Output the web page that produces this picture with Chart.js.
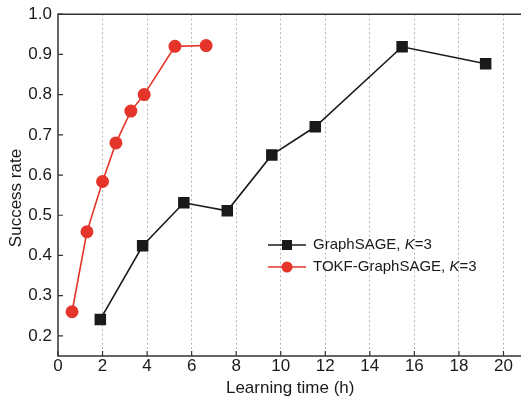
<!DOCTYPE html>
<html>
<head>
<meta charset="utf-8">
<script src="https://cdn.jsdelivr.net/npm/chart.js@4/dist/chart.umd.min.js"></script>
<style>
  html, body { margin: 0; padding: 0; background: #fff; overflow: hidden; }
  /* the plot runs off the right edge in the original, so the canvas is a little larger than the view */
  #wrap { width: 521px; height: 399px; overflow: hidden; }
  #chart { display: block; margin-top: -2px; }
</style>
</head>
<body>
<div id="wrap"><canvas id="chart" width="531" height="401"></canvas></div>
<script>
// values
const sageTime = [1.9, 3.8, 5.65, 7.6, 9.6, 11.55, 15.45, 19.2];
const sageRate = [0.241, 0.424, 0.531, 0.511, 0.65, 0.72, 0.919, 0.877];
const tokfTime = [0.63, 1.3, 2.0, 2.6, 3.27, 3.87, 5.25, 6.65];
const tokfRate = [0.26, 0.459, 0.584, 0.68, 0.759, 0.80, 0.92, 0.922];
const yTicks = [0.2, 0.3, 0.4, 0.5, 0.6, 0.7, 0.8, 0.9, 1.0];
const legendLabels = [['GraphSAGE, ', 'K', '=3'], ['TOKF-GraphSAGE, ', 'K', '=3']];
const yTitle = 'Success rate';

const FONT = '"Liberation Sans", Arial, Helvetica, sans-serif';
const INK = '#1a1a1a';
const RED = '#e5352b';

const toPoints = (xs, ys) => xs.map((x, i) => ({ x, y: ys[i] }));

// frame, inward ticks, y title and the legend
const decorations = {
  id: 'decorations',
  afterDraw(chart) {
    const { ctx, chartArea: a, scales } = chart;
    ctx.save();
    ctx.strokeStyle = '#333';
    ctx.lineWidth = 1.5;
    ctx.beginPath();
    ctx.moveTo(chart.width, a.top);
    ctx.lineTo(a.left, a.top);
    ctx.lineTo(a.left, a.bottom);
    ctx.lineTo(chart.width, a.bottom);
    ctx.stroke();

    ctx.lineWidth = 1.2;
    ctx.beginPath();
    scales.x.ticks.forEach(t => {
      const px = scales.x.getPixelForValue(t.value);
      ctx.moveTo(px, a.bottom);
      ctx.lineTo(px, a.bottom - 5);
    });
    scales.y.ticks.forEach(t => {
      const py = scales.y.getPixelForValue(t.value);
      ctx.moveTo(a.left, py);
      ctx.lineTo(a.left + 5, py);
    });
    ctx.stroke();

    // y title sits a bit below the middle of the axis in the original
    ctx.save();
    ctx.translate(16, 200);
    ctx.rotate(-Math.PI / 2);
    ctx.fillStyle = INK;
    ctx.font = '17px ' + FONT;
    ctx.textAlign = 'center';
    ctx.textBaseline = 'middle';
    ctx.fillText(yTitle, 0, 0);
    ctx.restore();

    const colors = [INK, RED];
    const lx = 268, ly = [247, 269];
    legendLabels.forEach((parts, i) => {
      const y = ly[i];
      ctx.strokeStyle = colors[i];
      ctx.fillStyle = colors[i];
      ctx.lineWidth = 1.5;
      ctx.beginPath();
      ctx.moveTo(lx, y);
      ctx.lineTo(lx + 38, y);
      ctx.stroke();
      ctx.beginPath();
      if (i === 0) {
        ctx.rect(lx + 14, y - 5, 10, 10);
      } else {
        ctx.arc(lx + 19, y, 5.5, 0, Math.PI * 2);
      }
      ctx.fill();

      ctx.fillStyle = INK;
      ctx.textAlign = 'left';
      ctx.textBaseline = 'middle';
      let tx = lx + 45;
      parts.forEach((s, j) => {
        ctx.font = (j === 1 ? 'italic ' : '') + '15px ' + FONT;
        ctx.fillText(s, tx, y);
        tx += ctx.measureText(s).width;
      });
    });
    ctx.restore();
  }
};

new Chart(document.getElementById('chart'), {
  type: 'scatter',
  data: {
    datasets: [{
      label: 'GraphSAGE, K=3',
      data: toPoints(sageTime, sageRate),
      showLine: true,
      borderColor: INK,
      backgroundColor: INK,
      borderWidth: 1.6,
      pointStyle: 'rect',
      pointRadius: 7,
      pointHoverRadius: 7
    }, {
      label: 'TOKF-GraphSAGE, K=3',
      data: toPoints(tokfTime, tokfRate),
      showLine: true,
      borderColor: RED,
      backgroundColor: RED,
      borderWidth: 1.6,
      pointStyle: 'circle',
      pointRadius: 5.7,
      pointHoverRadius: 5.7
    }]
  },
  options: {
    responsive: false,
    animation: false,
    layout: { padding: { top: 11, right: 0, left: 0, bottom: 0 } },
    plugins: {
      legend: { display: false },
      tooltip: { enabled: false }
    },
    scales: {
      x: {
        type: 'linear',
        min: 0,
        max: 20.85,
        afterBuildTicks: scale => {
          scale.ticks = scale.ticks.filter(t => t.value % 2 === 0);
        },
        afterFit: scale => { scale.height = 43; },
        ticks: {
          stepSize: 2,
          includeBounds: false,
          color: INK,
          font: { family: FONT, size: 17 },
          padding: 0,
          maxRotation: 0
        },
        grid: {
          drawTicks: false,
          color: ctx => (ctx.tick && ctx.tick.value === 0 ? 'rgba(0,0,0,0)' : '#b8b8b8'),
          lineWidth: 1
        },
        border: { display: false, dash: [2, 2.5] },
        title: {
          display: true,
          text: 'Learning time (h)',
          color: INK,
          font: { family: FONT, size: 17 },
          padding: { top: 0, bottom: 0 }
        }
      },
      y: {
        min: 0.15,
        max: 1.0,
        afterBuildTicks: scale => {
          scale.ticks = yTicks.map(v => ({ value: v }));
        },
        afterFit: scale => { scale.width = 58; },
        ticks: {
          color: INK,
          font: { family: FONT, size: 17 },
          padding: 6,
          callback: v => v.toFixed(1)
        },
        grid: { display: false, drawTicks: false },
        border: { display: false }
      }
    }
  },
  plugins: [decorations]
});
</script>
</body>
</html>
